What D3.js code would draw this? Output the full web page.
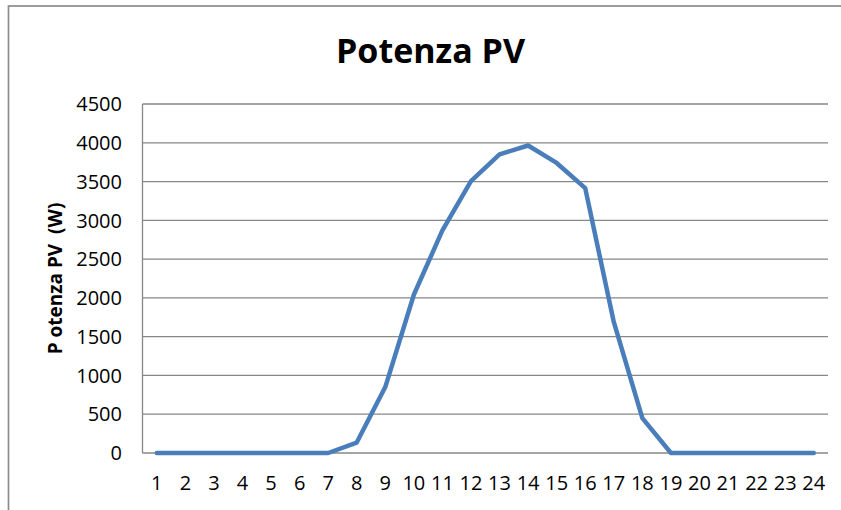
<!DOCTYPE html>
<html>
<head>
<meta charset="utf-8">
<script src="https://cdn.jsdelivr.net/npm/d3@7"></script>
<style>
  body { margin: 0; background: #fff; }
  text { font-family: "Open Sans", sans-serif; }
</style>
</head>
<body>
<script>
const width = 841
const height = 510

// ore del giorno
const ore = d3.range(1, 25)
// potenza PV (W)
const potenza = [0, 0, 0, 0, 0, 0, 0, 135, 850, 2040, 2870, 3505, 3850, 3965, 3740, 3415, 1690, 450, 0, 0, 0, 0, 0, 0]
const yTicks = [0, 500, 1000, 1500, 2000, 2500, 3000, 3500, 4000, 4500]

const margin = { top: 104, right: 13, bottom: 57, left: 142.5 }

const svg = d3.select('body').append('svg')
    .attr('width', width)
    .attr('height', height)

// cornice del grafico
svg.append('rect')
    .attr('x', 8.5)
    .attr('y', 6)
    .attr('width', width)
    .attr('height', height)
    .attr('fill', 'none')
    .attr('stroke', '#8c8c8c')
    .attr('stroke-width', 1.7)

const x = d3.scalePoint()
    .domain(ore)
    .range([margin.left, width - margin.right])
    .padding(0.5)

const y = d3.scaleLinear()
    .domain([0, 4500])
    .range([height - margin.bottom, margin.top])

// griglia orizzontale
svg.append('g')
    .selectAll('line')
    .data(yTicks)
    .enter()
    .append('line')
    .attr('x1', margin.left)
    .attr('x2', width - margin.right)
    .attr('y1', d => y(d))
    .attr('y2', d => y(d))
    .attr('stroke', '#878787')
    .attr('stroke-width', 1.3)

// asse verticale
svg.append('line')
    .attr('x1', margin.left)
    .attr('x2', margin.left)
    .attr('y1', y(4500))
    .attr('y2', y(0))
    .attr('stroke', '#878787')
    .attr('stroke-width', 1.3)

// etichette asse y
svg.append('g')
    .selectAll('text')
    .data(yTicks)
    .enter()
    .append('text')
    .attr('x', 122)
    .attr('y', d => y(d))
    .attr('dy', '0.36em')
    .attr('text-anchor', 'end')
    .attr('font-size', 20)
    .attr('fill', '#000')
    .text(d => d)

// etichette asse x
svg.append('g')
    .selectAll('text')
    .data(ore)
    .enter()
    .append('text')
    .attr('x', d => x(d))
    .attr('y', 490)
    .attr('text-anchor', 'middle')
    .attr('font-size', 20)
    .attr('fill', '#000')
    .text(d => d)

// linea della potenza
const line = d3.line()
    .x((d, i) => x(ore[i]))
    .y(d => y(d))

svg.append('path')
    .datum(potenza)
    .attr('d', line)
    .attr('fill', 'none')
    .attr('stroke', '#4a7ebb')
    .attr('stroke-width', 4.5)
    .attr('stroke-linejoin', 'round')
    .attr('stroke-linecap', 'round')

// titolo
svg.append('text')
    .attr('x', 430.5)
    .attr('y', 63)
    .attr('text-anchor', 'middle')
    .attr('font-size', 34)
    .attr('font-weight', 'bold')
    .attr('fill', '#000')
    .text('Potenza PV')

// titolo asse y
svg.append('text')
    .attr('transform', `translate(62, ${y(2250)}) rotate(-90)`)
    .attr('text-anchor', 'middle')
    .attr('font-size', 19)
    .attr('font-weight', 'bold')
    .attr('fill', '#000')
    .style('white-space', 'pre')
    .text('P otenza PV  (W)')
</script>
</body>
</html>
